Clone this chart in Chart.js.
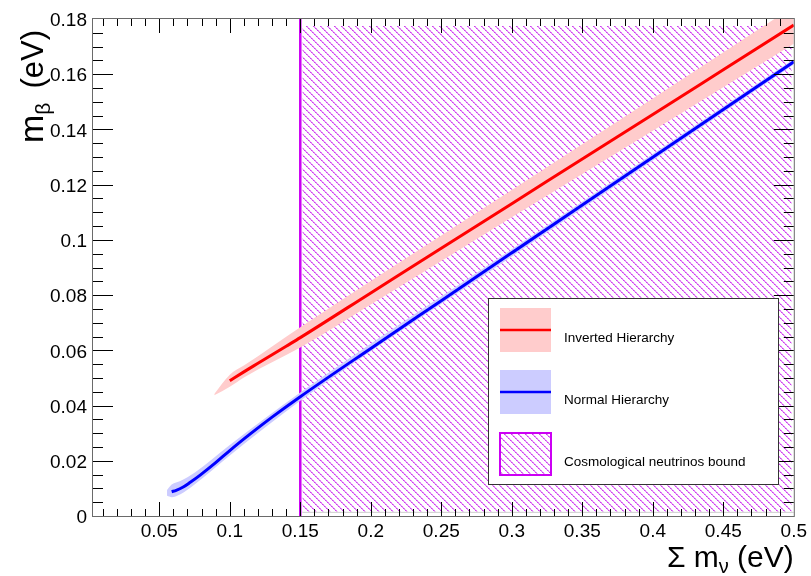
<!DOCTYPE html>
<html>
<head>
<meta charset="utf-8">
<script src="https://cdn.jsdelivr.net/npm/chart.js@4.4.1/dist/chart.umd.min.js"></script>
<style>
  body { margin: 0; background: #fff; }
</style>
</head>
<body>
<canvas id="mbeta" width="811" height="576"></canvas>
<script>
// axis ranges and labelled ticks
const xRange = [0.003, 0.5];
const yRange = [0, 0.18];
const xTickLabels = [0.05, 0.1, 0.15, 0.2, 0.25, 0.3, 0.35, 0.4, 0.45, 0.5];
const yTickLabels = [0, 0.02, 0.04, 0.06, 0.08, 0.1, 0.12, 0.14, 0.16, 0.18];

// inverted hierarchy: central curve and 1 sigma band
const ihX = [0.1, 0.11, 0.12, 0.13, 0.14, 0.15, 0.2, 0.25, 0.3, 0.35, 0.4, 0.45, 0.5];
const ihY = [0.049, 0.0522, 0.0553, 0.0584, 0.0615, 0.0646, 0.0808, 0.097, 0.1131, 0.1293, 0.1454, 0.1616, 0.1778];
const ihBandX = [0.089, 0.1, 0.11, 0.15, 0.2, 0.3, 0.4, 0.5];
const ihBandLow = [0.0437, 0.0468, 0.0502, 0.061, 0.0766, 0.1082, 0.1395, 0.171];
const ihBandHigh = [0.0442, 0.0512, 0.0545, 0.0684, 0.0851, 0.1181, 0.1512, 0.1846];

// normal hierarchy
const nhX = [0.0588, 0.062, 0.067, 0.072, 0.079, 0.09, 0.1, 0.115, 0.13, 0.15, 0.2, 0.25, 0.3, 0.35, 0.4, 0.45, 0.5];
const nhY = [0.0088, 0.0093, 0.0105, 0.0122, 0.0148, 0.0193, 0.0237, 0.0299, 0.0358, 0.0432, 0.0607, 0.078, 0.0953, 0.1126, 0.1299, 0.1472, 0.1645];
const nhBandX = [0.0555, 0.0588, 0.065, 0.075, 0.1, 0.15, 0.3, 0.5];
const nhBandLow = [0.0073, 0.0068, 0.0079, 0.0114, 0.0219, 0.0417, 0.094, 0.1635];
const nhBandHigh = [0.0094, 0.0114, 0.0127, 0.0157, 0.0257, 0.0447, 0.0966, 0.1655];

// cosmological bound on the sum of masses
const cosmoBound = 0.15;
const cosmoBoxX = [0.1515, 0.4985];
const cosmoBoxY = [0.0015, 0.1775];

const MAGENTA = '#cc00f4';
const FONT = '"Liberation Sans", Arial, Helvetica, sans-serif';

function pts(xs, ys) {
  return xs.map((x, i) => ({ x: x, y: ys[i] }));
}

// dotted "\\" hatch, 7 px between lines
function makeHatch() {
  const n = 14;
  const c = document.createElement('canvas');
  c.width = n;
  c.height = n;
  const g = c.getContext('2d');
  for (let k = 0; k < n; k++) {
    const even = k % 2 === 0;
    for (let off = 0; off < n; off += 7) {
      const x = (k + off) % n;
      g.fillStyle = even ? '#cf3cf0' : '#e083f6';
      g.fillRect(x, k, 1, 1);
      g.fillStyle = even ? '#e083f6' : '#efbbfa';
      g.fillRect((x + 1) % n, k, 1, 1);
    }
  }
  return g.createPattern(c, 'repeat');
}
const hatch = makeHatch();

// inward ticks on all four sides plus the grey frame
const framePlugin = {
  id: 'frame',
  afterDatasetsDraw(chart) {
    const { ctx, chartArea: a, scales: { x, y } } = chart;
    ctx.save();
    // faint shadow under the hatched box
    ctx.fillStyle = '#cfcfcf';
    ctx.fillRect(x.getPixelForValue(cosmoBoxX[0]), y.getPixelForValue(cosmoBoxY[0]), a.right - x.getPixelForValue(cosmoBoxX[0]), 1);
    ctx.strokeStyle = '#000';
    ctx.lineWidth = 1;
    ctx.beginPath();
    for (let i = 1; i <= 49; i++) {
      const px = Math.round(x.getPixelForValue(i / 100)) + 0.5;
      const len = i % 5 === 0 ? 14 : 7;
      ctx.moveTo(px, a.bottom);
      ctx.lineTo(px, a.bottom - len);
      ctx.moveTo(px, a.top);
      ctx.lineTo(px, a.top + len);
    }
    for (let i = 1; i <= 35; i++) {
      const py = Math.round(y.getPixelForValue(i * 0.005)) + 0.5;
      const len = i % 4 === 0 ? 20 : 10;
      ctx.moveTo(a.left, py);
      ctx.lineTo(a.left + len, py);
      ctx.moveTo(a.right, py);
      ctx.lineTo(a.right - len, py);
    }
    ctx.stroke();
    ctx.strokeStyle = '#6a6a6a';
    ctx.strokeRect(a.left - 0.5, a.top - 0.5, a.right - a.left + 1, a.bottom - a.top + 1);
    ctx.restore();
  }
};

// legend box in the lower right
const legendBox = {
  id: 'legendBox',
  afterDraw(chart) {
    const ctx = chart.ctx;
    ctx.save();
    ctx.fillStyle = '#fff';
    ctx.fillRect(488, 298, 291, 187);
    ctx.strokeStyle = '#333';
    ctx.lineWidth = 1;
    ctx.strokeRect(488.5, 298.5, 290, 186);

    ctx.fillStyle = '#ffcccc';
    ctx.fillRect(500, 308, 51, 44);
    ctx.strokeStyle = '#ff0000';
    ctx.lineWidth = 2.5;
    ctx.beginPath();
    ctx.moveTo(500, 330);
    ctx.lineTo(551, 330);
    ctx.stroke();

    ctx.fillStyle = '#ccccff';
    ctx.fillRect(500, 370, 51, 44);
    ctx.strokeStyle = '#0000ff';
    ctx.beginPath();
    ctx.moveTo(500, 392);
    ctx.lineTo(551, 392);
    ctx.stroke();

    ctx.fillStyle = hatch;
    ctx.fillRect(500, 433, 51, 42);
    ctx.strokeStyle = MAGENTA;
    ctx.lineWidth = 2;
    ctx.strokeRect(500, 433, 51, 42);

    ctx.fillStyle = '#000';
    ctx.font = '13.5px ' + FONT;
    ctx.textBaseline = 'middle';
    ctx.fillText('Inverted Hierarchy', 564, 338);
    ctx.fillText('Normal Hierarchy', 564, 400);
    ctx.fillText('Cosmological neutrinos bound', 564, 462);
    ctx.restore();
  }
};

// axis titles with subscripts
const titles = {
  id: 'titles',
  afterDraw(chart) {
    const ctx = chart.ctx;
    const big = '30px ' + FONT;
    const small = '20px ' + FONT;
    ctx.save();
    ctx.fillStyle = '#000';
    ctx.textBaseline = 'alphabetic';

    // x title, right aligned to the end of the axis
    const a = chart.chartArea;
    ctx.font = big;
    const w1 = ctx.measureText('\u03a3 m').width;
    const w3 = ctx.measureText(' (eV)').width;
    ctx.font = small;
    const w2 = ctx.measureText('\u03bd').width;
    const xs = a.right - (w1 + w2 + w3);
    ctx.font = big;
    ctx.fillText('\u03a3 m', xs, 567);
    ctx.font = small;
    ctx.fillText('\u03bd', xs + w1, 573);
    ctx.font = big;
    ctx.fillText(' (eV)', xs + w1 + w2, 567);

    // y title, rotated, running from y=143 up to y=30
    ctx.translate(43, 143);
    ctx.rotate(-Math.PI / 2);
    ctx.font = '34px ' + FONT;
    ctx.fillText('m', 0, 0);
    const wm = ctx.measureText('m').width;
    ctx.font = '21px ' + FONT;
    ctx.fillText('\u03b2', wm, 7);
    ctx.font = '31px ' + FONT;
    ctx.textAlign = 'right';
    ctx.fillText('(eV)', 113, 0);
    ctx.restore();
  }
};

const ctx = document.getElementById('mbeta').getContext('2d');
new Chart(ctx, {
  type: 'line',
  data: {
    datasets: [
      { data: pts(nhX, nhY), borderColor: '#0000ff', borderWidth: 3, cubicInterpolationMode: 'monotone', fill: false },
      { data: pts(ihX, ihY), borderColor: '#ff0000', borderWidth: 3, cubicInterpolationMode: 'monotone', fill: false },
      { data: pts(nhBandX, nhBandHigh), borderWidth: 0, backgroundColor: '#ccccff', cubicInterpolationMode: 'monotone', fill: '+1' },
      { data: pts(nhBandX, nhBandLow), borderWidth: 0, cubicInterpolationMode: 'monotone', fill: false },
      { data: pts(ihBandX, ihBandHigh), borderWidth: 0, backgroundColor: '#ffcccc', cubicInterpolationMode: 'monotone', fill: '+1' },
      { data: pts(ihBandX, ihBandLow), borderWidth: 0, cubicInterpolationMode: 'monotone', fill: false },
      { data: [{ x: cosmoBound, y: yRange[0] }, { x: cosmoBound, y: yRange[1] }], borderColor: MAGENTA, borderWidth: 2.5, fill: false },
      { data: pts(cosmoBoxX, [cosmoBoxY[1], cosmoBoxY[1]]), borderWidth: 0, backgroundColor: hatch, fill: { value: cosmoBoxY[0] } }
    ]
  },
  options: {
    responsive: false,
    animation: false,
    devicePixelRatio: 1,
    layout: { padding: { top: 19, right: 15, left: 0, bottom: 0 } },
    elements: { point: { radius: 0 } },
    plugins: { legend: { display: false }, tooltip: { enabled: false } },
    scales: {
      x: {
        type: 'linear',
        min: xRange[0],
        max: xRange[1],
        grid: { display: false, drawTicks: false },
        border: { display: false },
        afterBuildTicks: s => { s.ticks = xTickLabels.map(v => ({ value: v })); },
        afterFit: s => { s.height = 60; },
        ticks: {
          autoSkip: false,
          maxRotation: 0,
          padding: 4,
          color: '#000',
          font: { family: FONT, size: 19 },
          callback: v => String(v)
        }
      },
      y: {
        min: yRange[0],
        max: yRange[1],
        grid: { display: false, drawTicks: false },
        border: { display: false },
        afterBuildTicks: s => { s.ticks = yTickLabels.map(v => ({ value: v })); },
        afterFit: s => { s.width = 93; },
        ticks: {
          autoSkip: false,
          padding: 6,
          labelOffset: 2,
          color: '#000',
          font: { family: FONT, size: 19 },
          callback: v => String(v)
        }
      }
    }
  },
  plugins: [framePlugin, legendBox, titles]
});
</script>
</body>
</html>
